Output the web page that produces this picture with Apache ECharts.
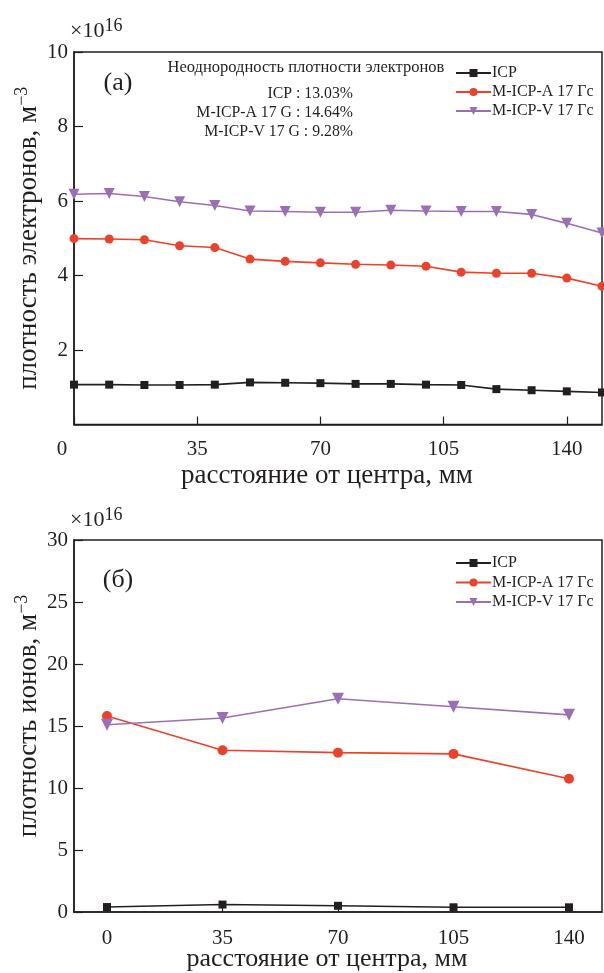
<!DOCTYPE html>
<html><head><meta charset="utf-8">
<script src="https://cdn.jsdelivr.net/npm/echarts@6/dist/echarts.min.js"></script>
<style>html,body{margin:0;padding:0;background:#fff}#c{width:604px;height:973px}</style>
</head><body><div id="c"></div>
<script>
// ---- data ----
const xTop = [0,10,20,30,40,50,60,70,80,90,100,110,120,130,140,150];
const topICP = [1.07,1.07,1.06,1.06,1.07,1.13,1.12,1.11,1.09,1.09,1.07,1.06,0.95,0.92,0.89,0.86];
const topA   = [4.99,4.98,4.96,4.80,4.75,4.44,4.38,4.34,4.30,4.28,4.25,4.09,4.06,4.06,3.93,3.71];
const topV   = [6.18,6.20,6.12,5.98,5.88,5.73,5.72,5.70,5.70,5.75,5.73,5.72,5.72,5.64,5.40,5.14];
const xBot = [0,35,70,105,140];
const botICP = [0.40,0.60,0.50,0.38,0.38];
const botA   = [15.8,13.05,12.85,12.75,10.75];
const botV   = [15.1,15.65,17.2,16.55,15.9];
const xTicks = [0,35,70,105,140];
const seriesNames = ['ICP','M-ICP-A 17 Гс','M-ICP-V 17 Гс'];
const nonUniformTitle = 'Неоднородность плотности электронов';
const nonUniformLines = ['ICP : 13.03%','M-ICP-A 17 G : 14.64%','M-ICP-V 17 G : 9.28%'];
const xName = 'расстояние от центра, мм';
const yNameTop = 'плотность электронов, м';
const yNameBot = 'плотность ионов, м';

const F = 'Liberation Serif';
const INK = '#231f20';
const RED = '#ef4129';
const PUR = '#9a6fb6';
const pair = (xs, ys) => xs.map((x,i)=>[x, ys[i]]);

const chart = echarts.init(document.getElementById('c'), null, {renderer:'canvas'});

function xAxis(gi, min, max) {
  return {
    type:'value', gridIndex:gi, min:min, max:max,
    name:xName, nameLocation:'middle', nameGap: gi===0 ? 38 : 34, nameMoveOverlap:false,
    nameTextStyle:{fontFamily:F, fontSize:gi===0 ? 27 : 26, color:INK, padding:[0,22,0,0]},
    axisLine:{show:true, onZero:false, lineStyle:{color:INK, width:1.5}},
    axisTick:{show:true, inside:true, length:8, customValues:xTicks, lineStyle:{color:INK, width:1.2}},
    axisLabel:{customValues:xTicks, fontFamily:F, fontSize:21, color:INK, margin: gi===0 ? 14 : 16,
      formatter: v => (gi===0 && v===0) ? '{z|0}' : String(v),
      rich:{z:{fontFamily:F, fontSize:21, color:INK, padding:[0,24,0,0]}}},
    splitLine:{show:false}
  };
}
function yAxis(gi, max, interval, name, pad) {
  return {
    type:'value', gridIndex:gi, min:0, max:max, interval:interval,
    name: name + '{s|−3}', nameLocation:'middle', nameRotate:90, nameGap:29, nameMoveOverlap:false,
    nameTextStyle:{fontFamily:F, fontSize:27, color:INK, padding:pad,
      rich:{s:{fontFamily:F, fontSize:18, color:INK, verticalAlign:'top', padding:[0,0,14,0]}}},
    axisLine:{show:true, onZero:false, lineStyle:{color:INK, width:1.5}},
    axisTick:{show:true, inside:true, length:9, lineStyle:{color:INK, width:1.2}},
    axisLabel:{fontFamily:F, fontSize:21, color:INK, margin:6, showMinLabel: gi===1},
    splitLine:{show:false}
  };
}
function mk(name, gi, data, color, symbol, size, rot) {
  return {
    name:name, type:'line', xAxisIndex:gi, yAxisIndex:gi, data:data,
    symbol:symbol, symbolSize:size, symbolRotate:rot||0,
    lineStyle:{color:color, width:1.6}, itemStyle:{color:color},
    animation:false, z:3
  };
}
function legend(top, gap) {
  return {
    data:seriesNames, orient:'vertical', left:455, top:top, padding:0,
    itemWidth:35, itemHeight:10, itemGap:gap,
    textStyle:{fontFamily:F, fontSize:16, lineHeight:16, color:INK, padding:[0,0,0,-4]},
    selectedMode:false
  };
}

const option = {
  backgroundColor:'#fff',
  animation:false,
  grid:[
    {left:74, right:2, top:52, height:372.5, show:true, borderColor:INK, borderWidth:1.5, outerBoundsMode:'none', containLabel:false},
    {left:74, right:2, top:540, height:372, show:true, borderColor:INK, borderWidth:1.5, outerBoundsMode:'none', containLabel:false}
  ],
  xAxis:[xAxis(0,0,150), xAxis(1,-10,150)],
  yAxis:[yAxis(0,10,2,yNameTop,[0,0,0,0]), yAxis(1,30,5,yNameBot,[0,0,0,20])],
  legend:[legend(65, 3), legend(555, 3.5)],
  series:[
    mk(seriesNames[0],0,pair(xTop,topICP),INK,'rect',8),
    mk(seriesNames[1],0,pair(xTop,topA),RED,'circle',9),
    mk(seriesNames[2],0,pair(xTop,topV),PUR,'triangle',11,180),
    mk(seriesNames[0],1,pair(xBot,botICP),INK,'rect',8),
    mk(seriesNames[1],1,pair(xBot,botA),RED,'circle',10),
    mk(seriesNames[2],1,pair(xBot,botV),PUR,'triangle',12,180)
  ],
  graphic:[
    {type:'text', left:70, top:17, style:{text:'×10{s|16}', fontFamily:F, fontSize:22, fill:INK,
      rich:{s:{fontFamily:F, fontSize:18, fill:INK, verticalAlign:'top', padding:[0,0,10,0]}}}},
    {type:'text', left:70, top:506, style:{text:'×10{s|16}', fontFamily:F, fontSize:22, fill:INK,
      rich:{s:{fontFamily:F, fontSize:18, fill:INK, verticalAlign:'top', padding:[0,0,10,0]}}}},
    {type:'text', x:118, y:83, style:{text:'(a)', fontFamily:F, fontSize:26, fill:INK, align:'center', verticalAlign:'middle'}},
    {type:'text', x:118, y:580, style:{text:'(б)', fontFamily:F, fontSize:26, fill:INK, align:'center', verticalAlign:'middle'}},
    {type:'text', x:306, y:68, style:{text:nonUniformTitle, fontFamily:F, fontSize:16.5, fill:INK, align:'center', verticalAlign:'middle'}},
    {type:'text', x:353, y:94, style:{text:nonUniformLines[0], fontFamily:F, fontSize:15.8, fill:INK, align:'right', verticalAlign:'middle'}},
    {type:'text', x:353, y:113, style:{text:nonUniformLines[1], fontFamily:F, fontSize:15.8, fill:INK, align:'right', verticalAlign:'middle'}},
    {type:'text', x:353, y:132, style:{text:nonUniformLines[2], fontFamily:F, fontSize:15.8, fill:INK, align:'right', verticalAlign:'middle'}}
  ]
};
chart.setOption(option);
</script>
</body></html>
